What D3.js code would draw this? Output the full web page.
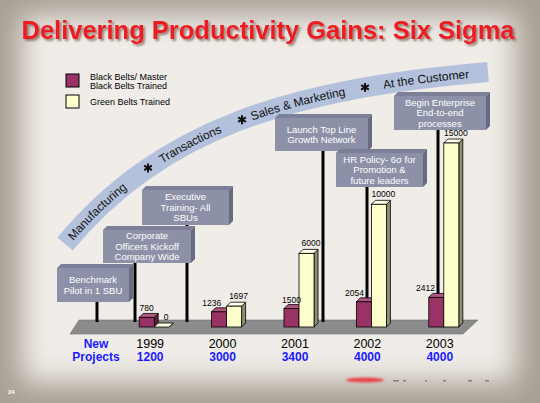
<!DOCTYPE html>
<html>
<head>
<meta charset="utf-8">
<script src="https://cdn.jsdelivr.net/npm/d3@7"></script>
<style>
  body{margin:0;background:#fff;}
  svg{display:block;font-family:"Liberation Sans",Arial,sans-serif;}
</style>
</head>
<body>
<div class="slide"></div>
<script>
//Data
const years = ['1999', '2000', '2001', '2002', '2003'];
const blackBelts = [780, 1236, 1500, 2054, 2412];
const greenBelts = [0, 1697, 6000, 10000, 15000];
const newProjects = [1200, 3000, 3400, 4000, 4000];
const seriesKeys = ['black', 'green'];
const legendLabels = [['Black Belts/ Master', 'Black Belts Trained'], ['Green Belts Trained']];
const milestones = [
    ['Benchmark', 'Pilot in 1 SBU'],
    ['Corporate', 'Officers Kickoff', 'Company Wide'],
    ['Executive', 'Training- All', 'SBUs'],
    ['Launch Top Line', 'Growth Network'],
    ['HR Policy- 6σ for', 'Promotion &', 'future leaders'],
    ['Begin Enterprise', 'End-to-end', 'processes']
];
const arcWords = ['Manufacturing', 'Transactions', 'Sales & Marketing', 'At the Customer'];
const titleText = 'Delivering Productivity Gains: Six Sigma';

const W = 540, H = 403;
const svg = d3.select('.slide').append('svg').attr('width', W).attr('height', H);
const defs = svg.append('defs');

//Background
defs.append('filter').attr('id', 'soft')
    .attr('x', '-20%').attr('y', '-20%').attr('width', '140%').attr('height', '140%')
    .append('feGaussianBlur').attr('stdDeviation', 14);
defs.append('filter').attr('id', 'blur2')
    .attr('x', '-50%').attr('y', '-200%').attr('width', '200%').attr('height', '500%')
    .append('feGaussianBlur').attr('stdDeviation', 1.2);
defs.append('filter').attr('id', 'shadow')
    .attr('x', '-5%').attr('y', '-20%').attr('width', '110%').attr('height', '150%')
    .append('feDropShadow').attr('dx', 2).attr('dy', 2).attr('stdDeviation', 0.8)
    .attr('flood-color', '#7d5d55').attr('flood-opacity', 0.75);
svg.append('rect').attr('width', W).attr('height', H).attr('fill', '#a9a095');
svg.append('rect').attr('x', 22).attr('y', 16).attr('width', 494).attr('height', 366)
    .attr('fill', '#f0ede8').attr('filter', 'url(#soft)');

//Title
svg.append('text').attr('class', 'title').attr('x', 268).attr('y', 39)
    .attr('text-anchor', 'middle').attr('font-size', 26).attr('font-weight', 'bold')
    .attr('fill', '#ee1c24').attr('filter', 'url(#shadow)')
    .attr('textLength', 493).attr('lengthAdjust', 'spacingAndGlyphs').text(titleText);

//Colours
const colors = {
    black: {front: '#993366', top: '#b45582', side: '#5f1c3d'},
    green: {front: '#ffffcc', top: '#ffffe6', side: '#8e8e74'}
};

//Legend
const legend = svg.append('g').attr('class', 'legend').attr('transform', 'translate(66,74)');
legendLabels.forEach((lines, i) => {
    const g = legend.append('g').attr('transform', `translate(0,${i * 21})`);
    g.append('rect').attr('width', 13).attr('height', 13)
        .attr('fill', colors[seriesKeys[i]].front).attr('stroke', '#000').attr('stroke-width', 1);
    const t = g.append('text').attr('x', 24).attr('font-size', 9).attr('fill', '#000');
    lines.forEach((l, j) => {
        t.append('tspan').attr('x', 24).attr('y', lines.length > 1 ? 6 + j * 9 : 10).text(l);
    });
});

//Arc band
const arc = d3.path();
arc.moveTo(65, 244);
arc.bezierCurveTo(161, 129, 289, 89, 488, 72);
const arcPath = defs.append('path').attr('id', 'arcPath').attr('d', arc.toString());
svg.append('path').attr('d', arc.toString())
    .attr('fill', 'none').attr('stroke', '#b4c1dd').attr('stroke-width', 20);

const arcNode = arcPath.node();
function lenAtX(x){
    let lo = 0, hi = arcNode.getTotalLength();
    for(let i = 0; i < 40; i++){
        const mid = (lo + hi) / 2;
        if(arcNode.getPointAtLength(mid).x < x) lo = mid; else hi = mid;
    }
    return lo;
}
const wordStartX = [70, 160, 251, 383];
const starX = [148, 242, 365];
arcWords.forEach((w, i) => {
    svg.append('text').attr('font-size', 12).attr('fill', '#111')
        .append('textPath').attr('href', '#arcPath').attr('startOffset', lenAtX(wordStartX[i]))
        .append('tspan').attr('dy', '0.36em').text(w);
});
const star = d3.symbol().type(d3.symbolAsterisk || d3.symbolCross).size(56);
starX.forEach(sx => {
    const p = arcNode.getPointAtLength(lenAtX(sx));
    svg.append('path').attr('d', star())
        .attr('transform', `translate(${p.x},${p.y})`)
        .attr('fill', '#111').attr('stroke', '#111').attr('stroke-width', 2);
});

//Scales
const x = d3.scaleBand().domain(years).range([118, 480]).paddingInner(0.585).paddingOuter(0.2925);
const xs = d3.scaleBand().domain(seriesKeys).range([0, x.bandwidth()]);
const y = d3.scaleLinear().domain([0, 15000]).range([327, 143]);
const depth = 4;

//Floor
svg.append('path')
    .attr('d', d3.line()([[79, 320], [478, 320], [463, 334], [70, 334]]) + 'Z')
    .attr('fill', '#8b8b8b').attr('stroke', '#6e6e6e').attr('stroke-width', 0.6);

//Milestone boxes and poles
const boxLayout = [
    {x: 57, y: 268, w: 72, h: 34, pole: 97},
    {x: 103, y: 230, w: 88, h: 33, pole: 135},
    {x: 142, y: 190, w: 87, h: 35, pole: 187},
    {x: 275, y: 118, w: 93, h: 33, pole: 323},
    {x: 336, y: 153, w: 87, h: 34, pole: 367},
    {x: 394, y: 96, w: 92, h: 34, pole: 438}
];
const poles = svg.append('g').attr('class', 'poles');
const boxes = svg.append('g').attr('class', 'boxes');
milestones.forEach((lines, i) => {
    const b = boxLayout[i];
    poles.append('line').attr('x1', b.pole).attr('x2', b.pole)
        .attr('y1', b.y + b.h).attr('y2', 322)
        .attr('stroke', '#000').attr('stroke-width', 3);
    const g = boxes.append('g');
    g.append('path').attr('d', d3.line()([[b.x, b.y], [b.x + depth, b.y - depth],
        [b.x + b.w + depth, b.y - depth], [b.x + b.w, b.y]]) + 'Z').attr('fill', '#7b7f97');
    g.append('path').attr('d', d3.line()([[b.x + b.w, b.y], [b.x + b.w + depth, b.y - depth],
        [b.x + b.w + depth, b.y + b.h - depth], [b.x + b.w, b.y + b.h]]) + 'Z').attr('fill', '#676b82');
    g.append('rect').attr('x', b.x).attr('y', b.y).attr('width', b.w).attr('height', b.h)
        .attr('fill', '#8d91a8');
    const lh = 10.5;
    const y0 = b.y + b.h / 2 - (lines.length - 1) * lh / 2 + 3.4;
    const t = g.append('text').attr('text-anchor', 'middle').attr('font-size', 9.5).attr('fill', '#fff');
    lines.forEach((l, j) => {
        t.append('tspan').attr('x', b.x + b.w / 2).attr('y', y0 + j * lh).text(l);
    });
});

//Bars
const barData = years.map((yr, i) => ({year: yr, black: blackBelts[i], green: greenBelts[i]}));
const bars = svg.append('g').attr('class', 'bars');
barData.forEach(d => {
    seriesKeys.forEach(k => {
        const bx = x(d.year) + xs(k), bw = xs.bandwidth();
        const top = y(d[k]), base = y(0);
        const c = colors[k];
        const g = bars.append('g').attr('class', 'bar');
        g.append('path').attr('d', d3.line()([[bx + bw, top], [bx + bw + depth, top - depth],
            [bx + bw + depth, base - depth], [bx + bw, base]]) + 'Z')
            .attr('fill', c.side).attr('stroke', '#000').attr('stroke-width', 0.8);
        g.append('path').attr('d', d3.line()([[bx, top], [bx + depth, top - depth],
            [bx + bw + depth, top - depth], [bx + bw, top]]) + 'Z')
            .attr('fill', c.top).attr('stroke', '#000').attr('stroke-width', 0.8);
        g.append('rect').attr('x', bx).attr('y', top).attr('width', bw).attr('height', base - top)
            .attr('fill', c.front).attr('stroke', '#000').attr('stroke-width', 0.8);
    });
});

//Value labels (black belt labels slide left of poles and of the green label)
const labels = svg.append('g').attr('class', 'values').attr('font-size', 8.5).attr('fill', '#000');
barData.forEach(d => {
    const gy = y(d.green) - 7;
    const gt = labels.append('text').attr('text-anchor', 'middle')
        .attr('x', x(d.year) + xs('green') + 12).attr('y', gy).text(d.green);
    const gLeft = x(d.year) + xs('green') + 12 - gt.node().getComputedTextLength() / 2;

    const ly = y(d.black) - 6;
    const t = labels.append('text').attr('text-anchor', 'middle').attr('y', ly).text(d.black);
    const tw = t.node().getComputedTextLength();
    let cx = x(d.year) + xs('black') + xs.bandwidth() / 2;
    boxLayout.forEach(b => {
        if(b.pole > cx - tw / 2 - 2 && b.pole < cx + tw / 2 + 2 && b.y + b.h < ly) {
            cx = b.pole - 3 - tw / 2;
        }
    });
    if(Math.abs(ly - gy) < 10 && cx + tw / 2 > gLeft - 8) cx = gLeft - 8 - tw / 2;
    t.attr('x', cx);
});

//Category axis with new projects
const axis = svg.append('g').attr('class', 'x axis');
years.forEach((yr, i) => {
    const cx = x(yr) + 11;
    axis.append('text').attr('x', cx).attr('y', 348).attr('text-anchor', 'middle')
        .attr('font-size', 12.5).attr('fill', '#000').text(yr);
    axis.append('text').attr('x', cx).attr('y', 361).attr('text-anchor', 'middle')
        .attr('font-size', 12).attr('font-weight', 'bold').attr('fill', '#1a1aff').text(newProjects[i]);
});
axis.append('text').attr('x', 96).attr('y', 348).attr('text-anchor', 'middle')
    .attr('font-size', 12).attr('font-weight', 'bold').attr('fill', '#1a1aff').text('New');
axis.append('text').attr('x', 96).attr('y', 361).attr('text-anchor', 'middle')
    .attr('font-size', 12).attr('font-weight', 'bold').attr('fill', '#1a1aff').text('Projects');

//Footer: page number and logo
svg.append('text').attr('x', 8).attr('y', 394).attr('font-size', 6).attr('font-weight', 'bold')
    .attr('fill', '#fff').text('24');
svg.append('ellipse').attr('cx', 365).attr('cy', 380).attr('rx', 19).attr('ry', 2.5)
    .attr('fill', '#e8454d').attr('filter', 'url(#blur2)');
[[393, 6], [403, 3], [425, 2], [443, 3], [468, 4], [485, 4]].forEach(m => {
    svg.append('rect').attr('x', m[0]).attr('y', 380).attr('width', m[1]).attr('height', 1.5)
        .attr('fill', '#6a625c').attr('opacity', 0.7);
});
</script>
</body>
</html>
